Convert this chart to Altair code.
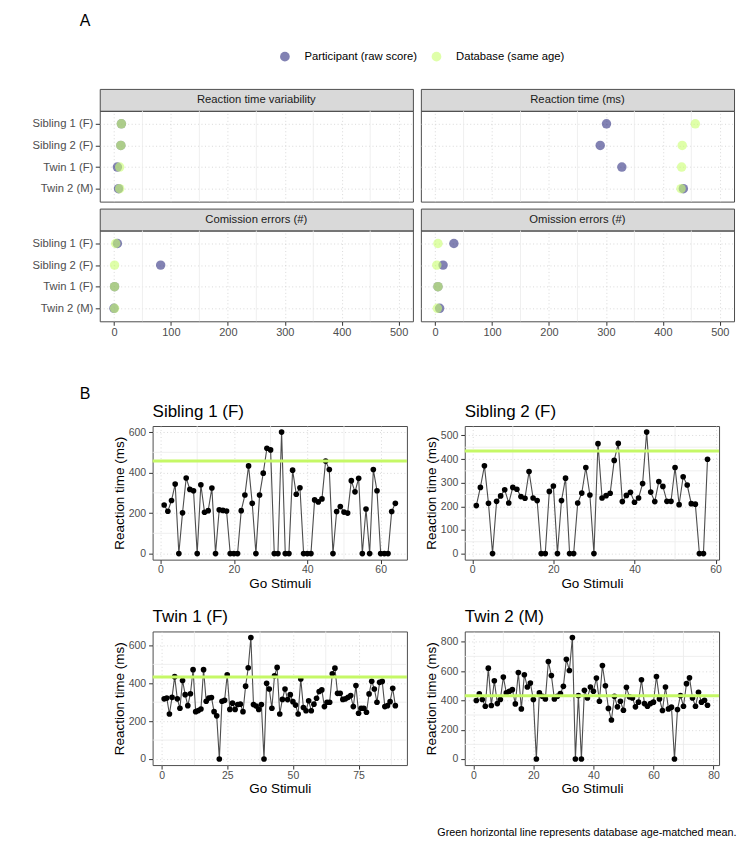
import altair as alt
import pandas as pd

# ---------------- data ----------------
subjects = ["Sibling 1 (F)", "Sibling 2 (F)", "Twin 1 (F)", "Twin 2 (M)"]
groups = ["Participant (raw score)", "Database (same age)"]
measures = ["Reaction time variability", "Reaction time (ms)",
            "Comission errors (#)", "Omission errors (#)"]

rtv_participant = [13, 12, 6, 8]
rtv_database = [13, 12, 10, 10]
rt_participant = [301, 290, 328, 436]
rt_database = [457, 434, 433, 432]
com_participant = [6, 82, 1, 0]
com_database = [3, 1, 1, 1]
om_participant = [33, 14, 5, 8]
om_database = [5, 3, 5, 4]

top_ticks = [0, 100, 200, 300, 400, 500]
top_minor = [50, 150, 250, 350, 450]

sib1_rt = [240, 209, 262, 343, 0, 201, 373, 317, 310, 0,
           340, 204, 212, 324, 0, 216, 213, 210, 0, 0,
           0, 212, 289, 433, 248, 0, 289, 397, 520, 512,
           0, 0, 600, 0, 0, 412, 293, 325, 0, 0,
           0, 265, 255, 270, 457, 415, 0, 208, 232, 205,
           200, 360, 305, 372, 0, 220, 0, 415, 310, 0,
           0, 0, 208, 248]
sib2_rt = [203, 280, 371, 213, 0, 221, 244, 270, 214, 280,
           272, 241, 234, 347, 235, 224, 0, 0, 263, 286,
           0, 224, 319, 0, 0, 214, 256, 364, 248, 0,
           465, 235, 245, 255, 394, 466, 220, 246, 259, 217,
           235, 296, 514, 260, 220, 305, 284, 221, 221, 364,
           207, 325, 290, 211, 209, 0, 0, 399]
twin1_rt = [318, 322, 238, 326, 435, 318, 268, 415, 340, 282,
            345, 472, 250, 256, 264, 472, 305, 322, 325, 250,
            228, 0, 305, 310, 445, 262, 295, 262, 288, 290,
            250, 385, 482, 642, 288, 280, 262, 288, 0, 400,
            370, 268, 440, 484, 238, 315, 370, 314, 340, 303,
            285, 238, 423, 272, 255, 308, 255, 290, 321, 357,
            365, 277, 300, 300, 450, 480, 347, 347, 315, 318,
            326, 335, 277, 388, 242, 268, 268, 247, 344, 411,
            370, 300, 405, 410, 277, 282, 303, 374, 282]
twin2_rt = [399, 444, 406, 360, 620, 365, 534, 378, 406, 559,
            451, 462, 473, 376, 590, 342, 575, 491, 518, 406,
            0, 451, 428, 410, 665, 570, 410, 428, 446, 496,
            680, 604, 829, 0, 433, 0, 469, 417, 491, 462,
            552, 394, 638, 500, 345, 266, 428, 356, 394, 333,
            489, 424, 417, 356, 388, 541, 378, 360, 378, 388,
            563, 410, 331, 491, 342, 354, 0, 338, 433, 360,
            514, 554, 417, 360, 455, 388, 401, 367]

sib_xticks = [0, 20, 40, 60]
sib_xminor = [10, 30, 50]
twin1_xticks = [0, 25, 50, 75]
twin1_xminor = [12.5, 37.5, 62.5, 87.5]
twin2_xticks = [0, 20, 40, 60, 80]
twin2_xminor = [10, 30, 50, 70]
sib1_yticks = [0, 200, 400, 600]
sib1_yminor = [100, 300, 500]
sib2_yticks = [0, 100, 200, 300, 400, 500]
sib2_yminor = [50, 150, 250, 350, 450]
twin1_yticks = [0, 200, 400, 600]
twin1_yminor = [100, 300, 500]
twin2_yticks = [0, 200, 400, 600, 800]
twin2_yminor = [100, 300, 500, 700]

caption = "Green horizontal line represents database age-matched mean."

# ---------------- style ----------------
FONT = "Liberation Sans"
PURPLE = "#2F2F80"
GREEN = "#CAFF70"
LINE_GREEN = "#C5F866"
GRID = "#CFCFCF"
MINOR = "#EBEBEB"
LABEL = "#4D4D4D"

TOP_W, TOP_H, STRIP_H = 314, 91, 22
BOT_W, BOT_H = 255, 134


def top_panel(measure, p_vals, d_vals, show_y, show_x):
    rows = []
    for s, v in zip(subjects, p_vals):
        rows.append({"subject": s, "group": groups[0], "value": v})
    for s, v in zip(subjects, d_vals):
        rows.append({"subject": s, "group": groups[1], "value": v})
    df = pd.DataFrame(rows)

    x = alt.X("value:Q",
              scale=alt.Scale(domain=[-25, 525], nice=False, zero=False),
              axis=alt.Axis(values=top_ticks, title=None, grid=True,
                            labels=show_x, ticks=show_x, domain=False,
                            labelFontSize=11, labelColor=LABEL,
                            tickColor="#333333", tickSize=4, labelPadding=1.5,
                            gridColor=GRID, gridDash=[1, 2.5], gridWidth=0.8))
    y = alt.Y("subject:N", sort=subjects,
              scale=alt.Scale(type="point", padding=0.6),
              axis=alt.Axis(title=None, grid=True, labels=show_y,
                            ticks=show_y, domain=False, labelFontSize=11.3,
                            labelColor=LABEL, tickColor="#333333",
                            tickSize=4.5, labelPadding=2.5,
                            gridColor=GRID, gridDash=[1, 2.5], gridWidth=0.8))
    minor = alt.Chart(pd.DataFrame({"value": top_minor})).mark_rule(
        color=MINOR, strokeWidth=0.8).encode(x=x)
    pts = alt.Chart(df).mark_circle(size=90, opacity=0.6).encode(
        x=x, y=y,
        color=alt.Color("group:N",
                        scale=alt.Scale(domain=groups, range=[PURPLE, GREEN]),
                        legend=alt.Legend(orient="none", legendX=180,
                                          legendY=-38, direction="horizontal",
                                          title=None, symbolType="circle",
                                          symbolSize=95, labelFontSize=11.3,
                                          labelColor="#000000",
                                          labelOffset=14, columnPadding=13,
                                          symbolStrokeWidth=0)))
    plot = alt.layer(minor, pts).properties(width=TOP_W, height=TOP_H)
    strip = alt.Chart(pd.DataFrame({"label": [measure]})).mark_text(
        fontSize=11.3, color="#1A1A1A").encode(text="label:N").properties(
        width=TOP_W, height=STRIP_H,
        view=alt.ViewBackground(fill="#D9D9D9", stroke="#4D4D4D",
                                strokeWidth=1))
    return alt.vconcat(strip, plot, spacing=0, bounds="flush")


def rt_panel(name, vals, mean, xticks, xminor, yticks, yminor):
    n = len(vals)
    df = pd.DataFrame({"trial": list(range(1, n + 1)), "rt": vals})
    xpad = 0.05 * (n - 1)
    ypad = 0.05 * (max(vals) - min(vals))
    x = alt.X("trial:Q",
              scale=alt.Scale(domain=[1 - xpad, n + xpad], nice=False, zero=False),
              axis=alt.Axis(values=xticks, title="Go Stimuli", grid=True,
                            domain=False, labelFontSize=10.5, labelColor=LABEL,
                            tickColor="#333333", tickSize=4, labelPadding=1,
                            titleFontSize=13.5, titleFontWeight="normal",
                            titleColor="#000000", titlePadding=1,
                            gridColor=GRID, gridDash=[1, 2.5], gridWidth=0.8))
    y = alt.Y("rt:Q",
              scale=alt.Scale(domain=[min(vals) - ypad, max(vals) + ypad],
                              nice=False, zero=False),
              axis=alt.Axis(values=yticks, title="Reaction time (ms)",
                            grid=True, domain=False, labelFontSize=10.5,
                            labelColor=LABEL, tickColor="#333333",
                            tickSize=4, labelPadding=3,
                            titleFontSize=13.5, titleFontWeight="normal",
                            titleColor="#000000", titlePadding=2,
                            gridColor=GRID, gridDash=[1, 2.5], gridWidth=0.8))
    minor_x = alt.Chart(pd.DataFrame({"trial": xminor})).mark_rule(
        color=MINOR, strokeWidth=0.8).encode(x=x)
    minor_y = alt.Chart(pd.DataFrame({"rt": yminor})).mark_rule(
        color=MINOR, strokeWidth=0.8).encode(y=y)
    line = alt.Chart(df).mark_line(color="#4D4D4D", strokeWidth=1.1).encode(x=x, y=y)
    pts = alt.Chart(df).mark_circle(size=32, color="#000000", opacity=1).encode(x=x, y=y)
    hline = alt.Chart(pd.DataFrame({"rt": [mean]})).mark_rule(
        color=LINE_GREEN, strokeWidth=3).encode(y=y)
    return alt.layer(minor_x, minor_y, line, pts, hline).properties(
        width=BOT_W, height=BOT_H,
        title=alt.TitleParams(name, anchor="start", frame="group", fontSize=17,
                              fontWeight="normal", color="#000000", offset=5))


row1 = alt.hconcat(
    top_panel(measures[0], rtv_participant, rtv_database, True, False),
    top_panel(measures[1], rt_participant, rt_database, False, False),
    spacing=6)
row2 = alt.hconcat(
    top_panel(measures[2], com_participant, com_database, True, True),
    top_panel(measures[3], om_participant, om_database, False, True),
    spacing=6)
top = alt.vconcat(row1, row2, spacing=5,
                  title=alt.TitleParams("A", anchor="start", frame="group",
                                        dx=-20, offset=60, fontSize=16,
                                        fontWeight="normal", color="#000000"))

rowb1 = alt.hconcat(
    rt_panel(subjects[0], sib1_rt, rt_database[0], sib_xticks, sib_xminor,
             sib1_yticks, sib1_yminor),
    rt_panel(subjects[1], sib2_rt, rt_database[1], sib_xticks, sib_xminor,
             sib2_yticks, sib2_yminor),
    spacing=14)
rowb2 = alt.hconcat(
    rt_panel(subjects[2], twin1_rt, rt_database[2], twin1_xticks, twin1_xminor,
             twin1_yticks, twin1_yminor),
    rt_panel(subjects[3], twin2_rt, rt_database[3], twin2_xticks, twin2_xminor,
             twin2_yticks, twin2_yminor),
    spacing=14)
grid = alt.vconcat(rowb1, rowb2, spacing=17)
spacer = alt.Chart(pd.DataFrame({"a": [0]})).mark_point(opacity=0).encode(
    opacity=alt.value(0)).properties(
    width=1, height=1,
    view=alt.ViewBackground(stroke="transparent", fill="transparent"))
bottom = alt.hconcat(spacer, grid, spacing=7,
                     title=alt.TitleParams("B", anchor="start", frame="group",
                                           dx=-20, offset=0, fontSize=16,
                                           fontWeight="normal", color="#000000"))

chart = alt.vconcat(
    top, bottom, spacing=48,
    padding={"left": 23, "top": 3, "right": 5, "bottom": 5},
    title=alt.TitleParams(caption, orient="bottom", anchor="end", dx=2,
                          fontSize=10.8, fontWeight="normal",
                          color="#000000", offset=32),
).configure(font=FONT).configure_view(
    stroke="#4D4D4D", strokeWidth=1).configure_title(font=FONT)

chart.save("out.html", embed_options={"renderer": "svg", "actions": False})
